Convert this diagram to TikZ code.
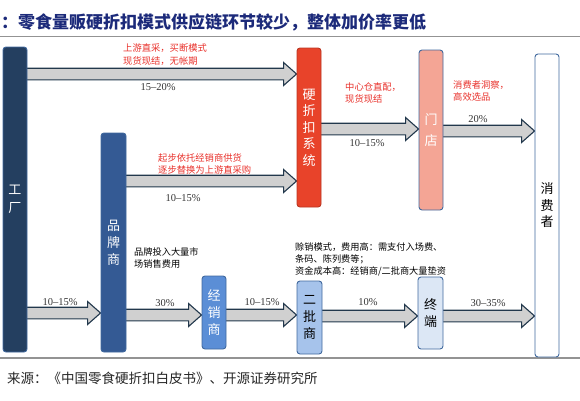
\documentclass[tikz,border=0pt]{standalone}
\usepackage{fontspec}
\setmainfont{Liberation Serif}
\newfontfamily\cjk{Noto Sans CJK SC}
\usetikzlibrary{calc,backgrounds}
\definecolor{facc}{HTML}{243F60}
\definecolor{brandc}{HTML}{345A94}
\definecolor{distc}{HTML}{5B8ED6}
\definecolor{hdc}{HTML}{E8432A}
\definecolor{whc}{HTML}{A6C3EB}
\definecolor{storec}{HTML}{F4A595}
\definecolor{termc}{HTML}{DCE7F5}
\definecolor{boxline}{HTML}{41699E}
\definecolor{arrline}{HTML}{22384C}
\definecolor{arrfill}{HTML}{D0D0D0}
\definecolor{redtxt}{HTML}{E8302A}
\definecolor{titlec}{HTML}{1C2A7A}
\definecolor{pcttxt}{HTML}{333333}
\newcommand\blockarrow[3]{%
  \draw[barr] let \p1=(#1.east), \p2=(#2.west) in
    (\x1-2,#3+5.8) -- (\x2-13,#3+5.8) -- (\x2-13,#3+11.5) -- (\x2,#3)
    -- (\x2-13,#3-11.5) -- (\x2-13,#3-5.8) -- (\x1-2,#3-5.8) -- cycle;}
\begin{document}
\begin{tikzpicture}[x=1pt,y=1pt,
  box/.style={draw=boxline, line width=0.9pt, rounded corners=3pt, inner sep=0pt,
    align=center, font=\cjk\fontsize{13}{17}\selectfont},
  barr/.style={draw=arrline, line width=1.1pt, fill=arrfill, line join=miter},
  redt/.style={text=redtxt, align=left, anchor=west, inner sep=0pt,
    font=\cjk\fontsize{9.3}{12.5}\selectfont},
  blkt/.style={text=black, align=left, anchor=west, inner sep=0pt,
    font=\cjk\fontsize{9.2}{12}\selectfont},
  pct/.style={text=pcttxt, inner sep=0pt, font=\fontsize{10.5}{12}\selectfont},
  rule/.style={draw=gray!85, line width=1.8pt}]
\useasboundingbox (0,0) rectangle (580,400);

% title and source
\node[anchor=west, inner sep=0pt, text=titlec, font=\cjk\bfseries\fontsize{17}{20}\selectfont]
  (title) at (1,377.5) {：零食量贩硬折扣模式供应链环节较少，整体加价率更低};
\draw[rule] (0,363.5) -- (580,363.5);
\draw[rule] (0,42) -- (580,42);
\node[anchor=west, inner sep=0pt, text=black!85, font=\cjk\fontsize{13.5}{16}\selectfont]
  (src) at (7,22) {来源：《中国零食硬折扣白皮书》、开源证券研究所};

% boxes
\node[box, fill=facc, text=white, minimum width=24, minimum height=305,
  font=\cjk\fontsize{13}{18}\selectfont] (fac) at (15,200.5) {工\\厂};
\node[box, fill=brandc, text=white, minimum width=25, minimum height=219] (brand) at (113.5,157.5) {品\\牌\\商};
\node[box, fill=distc, text=white, minimum width=24, minimum height=73] (dist) at (214,87.5) {经\\销\\商};
\node[box, fill=hdc, draw=hdc!80!black, text=white, minimum width=24, minimum height=159,
  font=\cjk\fontsize{13}{16.5}\selectfont] (hd) at (309,272.5) {硬\\折\\扣\\系\\统};
\node[box, fill=whc, text=black, minimum width=25, minimum height=73] (wh) at (309.5,82.5) {二\\批\\商};
\node[box, fill=storec, text=white, minimum width=24, minimum height=160,
  font=\cjk\fontsize{13}{21}\selectfont] (store) at (431,270) {门\\店};
\node[box, fill=termc, text=black, minimum width=25, minimum height=72] (term) at (430.5,87) {终\\端};
\node[box, fill=white, text=black, minimum width=24, minimum height=303,
  font=\cjk\fontsize{13}{16.5}\selectfont] (cons) at (547,194.5) {消\\费\\者};

% arrows
\begin{scope}[on background layer]
\blockarrow{fac}{hd}{326}
\blockarrow{brand}{hd}{219}
\blockarrow{hd}{store}{271}
\blockarrow{store}{cons}{269}
\blockarrow{fac}{brand}{87}
\blockarrow{brand}{dist}{85}
\blockarrow{dist}{wh}{85}
\blockarrow{wh}{term}{84}
\blockarrow{term}{cons}{84}
\end{scope}

% annotations
\node[redt] (n1) at (123,345.5) {上游直采，买断模式\\现货现结，无帐期};
\node[pct] (p1) at (158,313) {15--20\%};
\node[redt] (n2) at (158,236) {起步依托经销商供货\\逐步替换为上游直采购};
\node[pct] (p2) at (183,202) {10--15\%};
\node[redt] (n3) at (345,307) {中心仓直配，\\现货现结};
\node[pct] (p3) at (367,257) {10--15\%};
\node[redt] (n4) at (453,309) {消费者洞察，\\高效选品};
\node[pct] (p4) at (478,281) {20\%};
\node[blkt] (n5) at (134,142.5) {品牌投入大量市\\场销售费用};
\node[pct] (p5) at (60,98) {10--15\%};
\node[pct] (p6) at (165,97) {30\%};
\node[pct] (p7) at (262,98) {10--15\%};
\node[blkt] (n6) at (295,141) {赊销模式，费用高：需支付入场费、\\条码、陈列费等；\\资金成本高：经销商/二批商大量垫资};
\node[pct] (p8) at (368,98) {10\%};
\node[pct] (p9) at (488,97) {30--35\%};
\end{tikzpicture}
\end{document}
